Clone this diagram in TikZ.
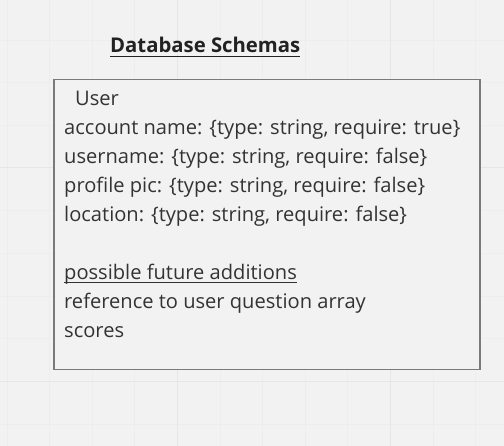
\documentclass[tikz,border=0pt]{standalone}
\usepackage{fontspec}
\setmainfont{Open Sans}
\definecolor{bg}{HTML}{F2F2F2}
\definecolor{gridminor}{HTML}{EDEDED}
\definecolor{gridmajor}{HTML}{E6E6E6}
\definecolor{boxline}{HTML}{7A7A7A}
\definecolor{txt}{HTML}{333333}
\definecolor{title}{HTML}{222222}
\begin{document}
\begin{tikzpicture}[x=1pt,y=-1pt,
  line/.style={inner sep=0pt,anchor=base west,text=txt,font=\fontsize{20.1}{23}\selectfont},
  ttl/.style={inner sep=0pt,anchor=base west,text=title,font=\fontsize{20.3}{23}\selectfont\bfseries},
  ul/.style={line width=1.3pt},
  box/.style={draw=boxline,line width=1.5pt,fill=bg,inner sep=0pt,anchor=north west}]
\useasboundingbox (0,0) rectangle (504,446);
\fill[bg] (0,0) rectangle (504,446);
\foreach \x in {7,49.6,92.2,134.8,220,262.6,305.2,347.8,433,475.6} \draw[gridminor,line width=0.8pt] (\x,0) -- (\x,446);
\foreach \y in {40,82.6,125.2,210.8,253.4,296,338.6,424.2} \draw[gridminor,line width=0.8pt] (0,\y) -- (504,\y);
\foreach \x in {177.4,390.4} \draw[gridmajor,line width=1pt] (\x,0) -- (\x,446);
\foreach \y in {168,382} \draw[gridmajor,line width=1pt] (0,\y) -- (504,\y);
\node[box,minimum width=426pt,minimum height=290pt] (user) at (53,79) {};
\node[ttl] (t) at (110,52.5) {Database Schemas};
\draw[title,ul] ([yshift=-4pt]t.base west) -- ([yshift=-4pt]t.base east);
\node[line] (u) at (75,106) {User};
\node[line] (l1) at (64,135) {account name: \{type: string, require: true\}};
\node[line] (l2) at (64,164) {username: \{type: string, require: false\}};
\node[line] (l3) at (64,193) {profile pic: \{type: string, require: false\}};
\node[line] (l4) at (64,222) {location: \{type: string, require: false\}};
\node[line] (p) at (64,280) {possible future additions};
\draw[txt,line width=1pt] ([yshift=-3pt]p.base west) -- ([yshift=-3pt]p.base east);
\node[line] (r) at (64,309) {reference to user question array};
\node[line] (s) at (64,338) {scores};
\end{tikzpicture}
\end{document}
